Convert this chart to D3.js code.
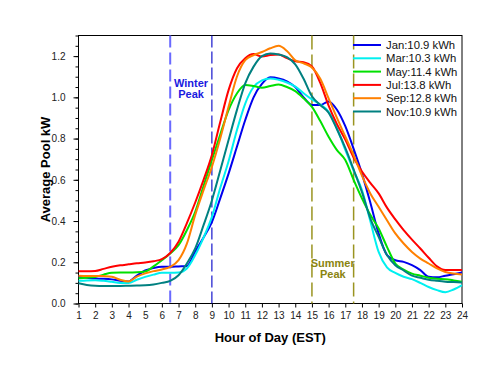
<!DOCTYPE html>
<html>
<head>
<meta charset="utf-8">
<script src="https://cdn.jsdelivr.net/npm/d3@7"></script>
<style>
  html, body { margin: 0; padding: 0; background: #fff; }
  svg { display: block; font-family: "Liberation Sans", Arial, sans-serif; }
</style>
</head>
<body>
<svg id="chart" width="494" height="365"></svg>
<script>
const hours = [1,1.5,2,2.5,3,3.5,4,4.5,5,5.5,6,6.5,7,7.5,8,8.5,9,9.5,10,10.5,11,11.5,12,12.5,13,13.5,14,14.5,15,15.5,16,16.5,17,17.5,18,18.5,19,19.5,20,20.5,21,21.5,22,22.5,23,23.5,24];

const janValues = [0.130,0.125,0.121,0.120,0.117,0.110,0.107,0.135,0.160,0.172,0.178,0.178,0.180,0.182,0.252,0.320,0.395,0.510,0.630,0.760,0.890,1.000,1.065,1.097,1.092,1.078,1.050,1.000,0.963,0.963,0.980,0.940,0.860,0.750,0.630,0.490,0.340,0.235,0.210,0.202,0.186,0.162,0.130,0.127,0.135,0.142,0.150];
const marValues = [0.110,0.112,0.113,0.110,0.105,0.100,0.100,0.115,0.129,0.140,0.149,0.149,0.150,0.170,0.235,0.320,0.420,0.560,0.690,0.840,0.970,1.050,1.082,1.092,1.085,1.072,1.052,1.020,0.990,0.965,0.930,0.850,0.745,0.645,0.550,0.400,0.250,0.175,0.148,0.130,0.118,0.100,0.080,0.065,0.055,0.068,0.089];
const mayValues = [0.122,0.125,0.129,0.140,0.149,0.150,0.150,0.151,0.155,0.180,0.210,0.243,0.283,0.356,0.445,0.570,0.696,0.820,0.938,1.019,1.060,1.055,1.047,1.055,1.062,1.050,1.030,0.995,0.954,0.885,0.809,0.744,0.696,0.600,0.510,0.430,0.364,0.275,0.194,0.165,0.145,0.135,0.125,0.120,0.118,0.112,0.105];
const julValues = [0.157,0.157,0.158,0.168,0.178,0.185,0.190,0.195,0.199,0.205,0.215,0.245,0.300,0.390,0.490,0.600,0.720,0.880,1.035,1.140,1.190,1.210,1.198,1.205,1.208,1.190,1.175,1.170,1.150,1.070,0.960,0.870,0.795,0.708,0.640,0.585,0.534,0.465,0.408,0.356,0.310,0.267,0.222,0.180,0.162,0.162,0.162];
const sepValues = [0.135,0.134,0.134,0.133,0.130,0.115,0.107,0.130,0.146,0.157,0.165,0.178,0.210,0.290,0.430,0.550,0.663,0.800,0.954,1.100,1.180,1.205,1.220,1.238,1.250,1.225,1.180,1.165,1.145,1.090,0.995,0.900,0.810,0.720,0.620,0.534,0.469,0.404,0.340,0.291,0.250,0.218,0.194,0.170,0.153,0.145,0.141];
const novValues = [0.098,0.090,0.086,0.085,0.085,0.085,0.086,0.087,0.088,0.092,0.100,0.110,0.137,0.194,0.267,0.380,0.500,0.645,0.793,0.938,1.068,1.149,1.200,1.213,1.208,1.195,1.160,1.090,1.005,0.963,0.925,0.845,0.755,0.650,0.540,0.413,0.323,0.235,0.186,0.160,0.135,0.125,0.115,0.110,0.106,0.104,0.102];

const seriesNames = ["Jan:10.9 kWh","Mar:10.3 kWh","May:11.4 kWh","Jul:13.8 kWh","Sep:12.8 kWh","Nov:10.9 kWh"];
const seriesColors = ["#0000ee","#00f0f0","#00e000","#ff0000","#ff8000","#008080"];
const seriesValues = [janValues, marValues, mayValues, julValues, sepValues, novValues];

const xTicks = d3.range(1, 25);
const yTicks = [0, 0.2, 0.4, 0.6, 0.8, 1.0, 1.2];
const yMinorTicks = d3.range(0, 1.301, 0.05);

const winterLines = [6.5, 9];
const summerLines = [15, 17.5];
const winterLabel = ["Winter", "Peak"];
const summerLabel = ["Summer", "Peak"];

const svg = d3.select("#chart");
const L = 78.5, R = 462, T = 35.5, B = 303.5;

const x = d3.scaleLinear().domain([1, 24]).range([L, R]);
const y = d3.scaleLinear().domain([0, 1.3]).range([B, T]);

// frame
svg.append("rect").attr("x", L).attr("y", T).attr("width", R - L).attr("height", B - T)
  .attr("fill", "none").attr("stroke", "#000").attr("stroke-width", 1);

// axes
const yAxis = svg.append("g").attr("transform", `translate(${L},0)`)
  .call(d3.axisLeft(y).tickValues(yTicks).tickFormat(d3.format(".1f")).tickSize(5).tickPadding(8));
const yMinor = svg.append("g").attr("transform", `translate(${L},0)`)
  .call(d3.axisLeft(y).tickValues(yMinorTicks).tickFormat("").tickSize(3));
const xAxis = svg.append("g").attr("transform", `translate(0,${B})`)
  .call(d3.axisBottom(x).tickValues(xTicks).tickFormat(d3.format("d")).tickSize(4).tickPadding(4));
[yAxis, yMinor, xAxis].forEach(g => {
  g.select(".domain").remove();
  g.selectAll("text").attr("font-size", 10).attr("fill", "#222")
    .attr("font-family", "'Liberation Sans Narrow', 'Liberation Sans', Arial, sans-serif");
  g.selectAll("line").attr("stroke", "#000");
});

// titles
svg.append("text").attr("transform", `translate(45,${(T + B) / 2}) rotate(-90)`)
  .attr("text-anchor", "middle").attr("dy", "0.35em")
  .attr("font-size", 13).attr("font-weight", "bold").text("Average Pool kW");
svg.append("text").attr("x", (L + R) / 2).attr("y", 342)
  .attr("text-anchor", "middle").attr("font-size", 13).attr("font-weight", "bold").text("Hour of Day (EST)");

// peak lines
svg.append("line").attr("x1", x(winterLines[0])).attr("x2", x(winterLines[0])).attr("y1", T).attr("y2", B)
  .attr("stroke", "#6a6aff").attr("stroke-width", 2).attr("stroke-dasharray", "12,5");
svg.append("line").attr("x1", x(winterLines[1])).attr("x2", x(winterLines[1])).attr("y1", T).attr("y2", B)
  .attr("stroke", "#0000c8").attr("stroke-width", 1.1).attr("stroke-dasharray", "12,4");
summerLines.forEach(h => {
  svg.append("line").attr("x1", x(h)).attr("x2", x(h)).attr("y1", T).attr("y2", B)
    .attr("stroke", "#9a9420").attr("stroke-width", 1.5).attr("stroke-dasharray", "14,5");
});

const wx = (x(winterLines[0]) + x(winterLines[1])) / 2;
winterLabel.forEach((t, i) => {
  svg.append("text").attr("x", wx).attr("y", 87 + i * 10.5).attr("text-anchor", "middle")
    .attr("font-size", 11).attr("font-weight", "bold").attr("fill", "#1a1ae0").text(t);
});
const sx = (x(summerLines[0]) + x(summerLines[1])) / 2;
summerLabel.forEach((t, i) => {
  svg.append("text").attr("x", sx).attr("y", 267 + i * 10.5).attr("text-anchor", "middle")
    .attr("font-size", 11).attr("font-weight", "bold").attr("fill", "#8a8410").text(t);
});

// curves
const line = d3.line().x(d => x(d[0])).y(d => y(d[1])).curve(d3.curveMonotoneX);
seriesValues.forEach((vals, i) => {
  svg.append("path").datum(hours.map((h, j) => [h, vals[j]]))
    .attr("d", line).attr("fill", "none").attr("stroke", seriesColors[i])
    .attr("stroke-width", 2).attr("stroke-linejoin", "round");
});

// legend
seriesNames.forEach((n, i) => {
  const ly = 45 + i * 13.3;
  svg.append("line").attr("x1", 353).attr("x2", 381).attr("y1", ly).attr("y2", ly)
    .attr("stroke", seriesColors[i]).attr("stroke-width", 2);
  svg.append("text").attr("x", 386).attr("y", ly).attr("dy", "0.36em")
    .attr("font-size", 11.3).attr("fill", "#111").text(n);
});
</script>
</body>
</html>
